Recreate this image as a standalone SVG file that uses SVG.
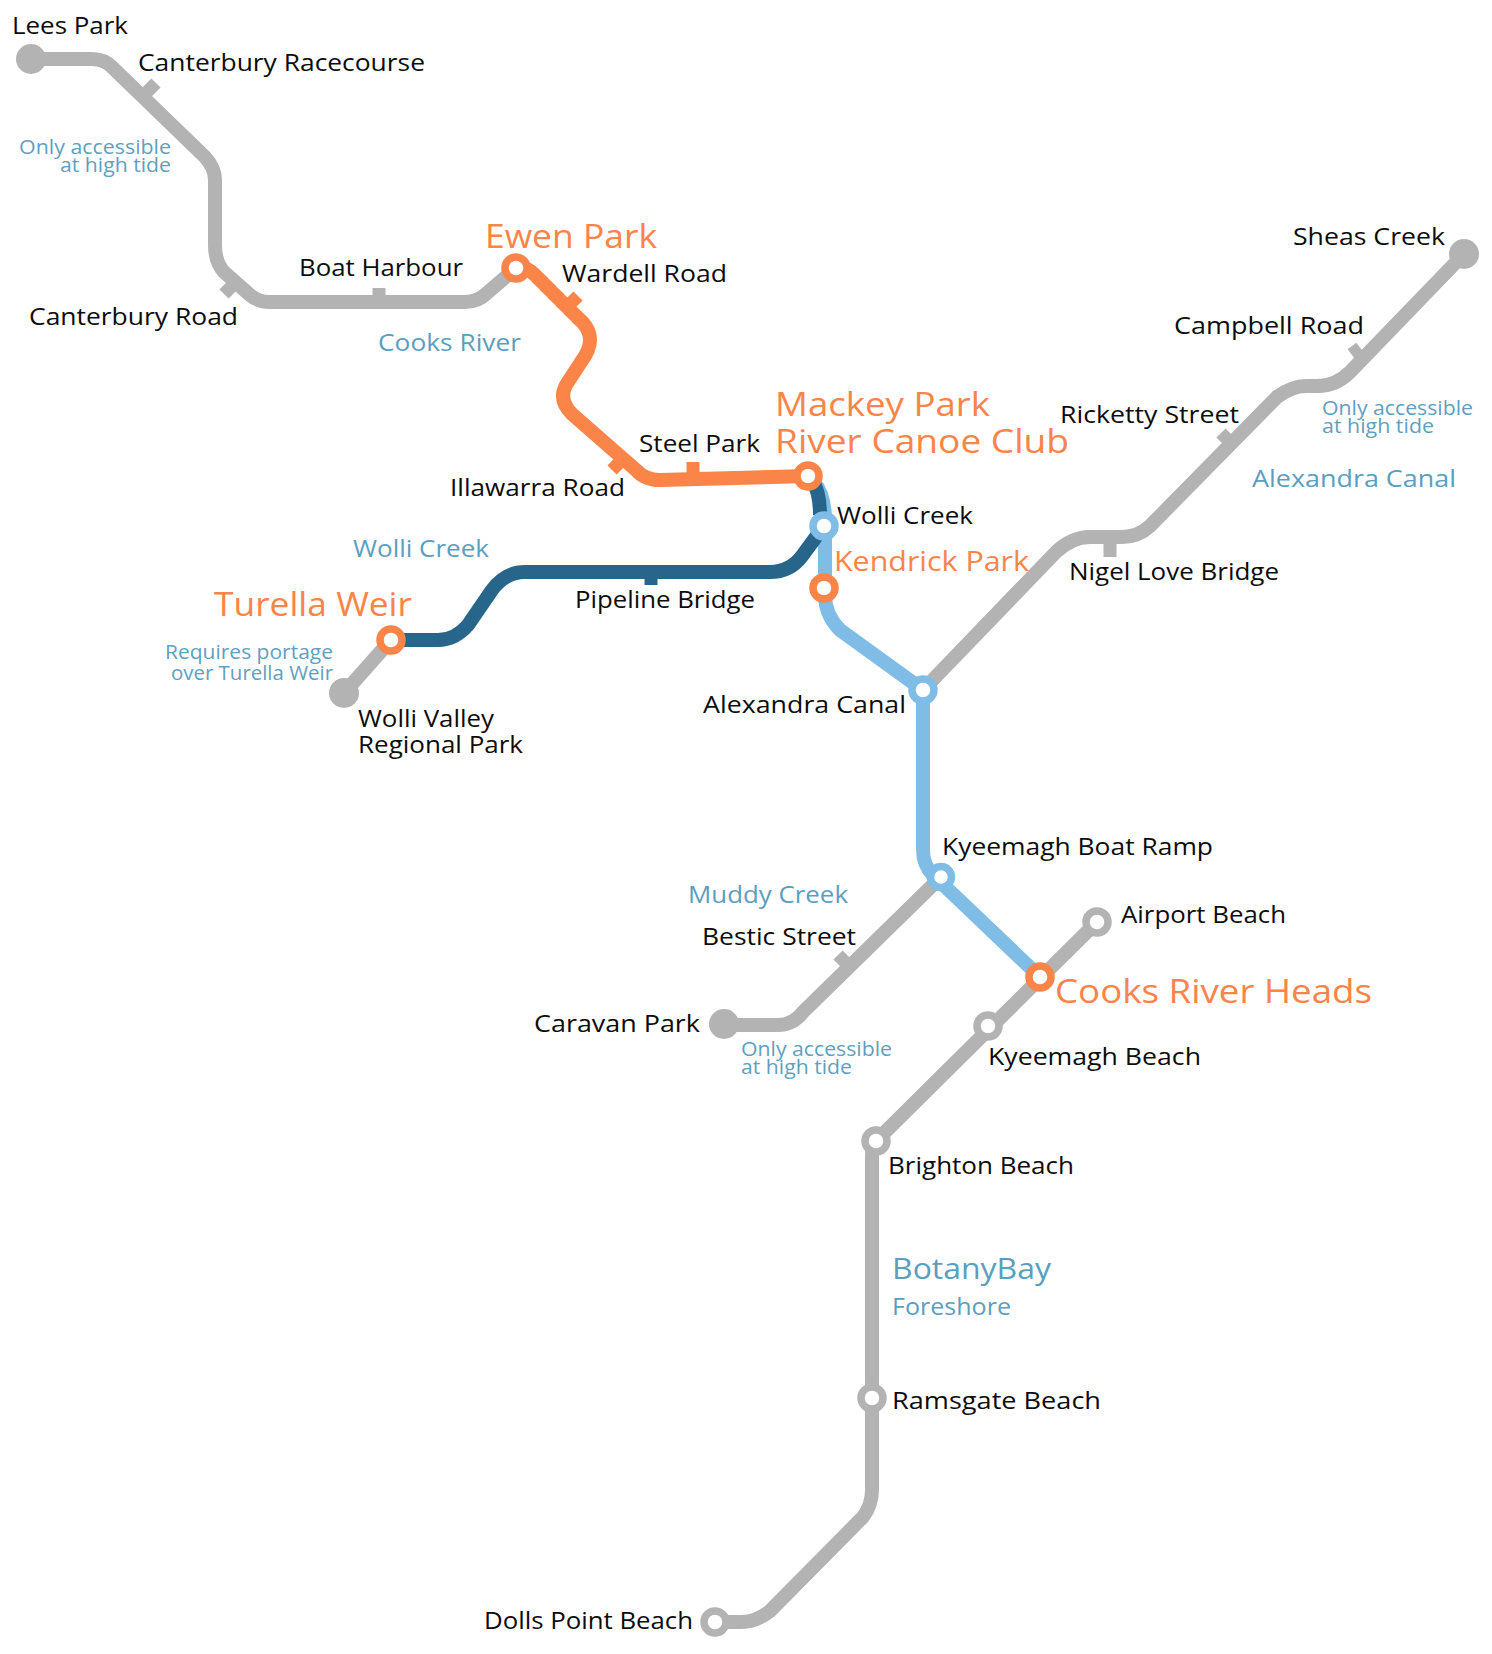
<svg xmlns="http://www.w3.org/2000/svg" width="1492" height="1654" viewBox="0 0 1492 1654">
<style>
text{font-family:"Open Sans","Liberation Sans",sans-serif;font-weight:400}
.l{font-size:24px;fill:#0c0c0c}
.big{font-size:33px;fill:#fb8449}
.mid{font-size:28px;fill:#fb8449}
.riv{font-size:24.5px;fill:#5b9ebf}
.botany{font-size:30px;fill:#5b9ebf}
.note{font-size:20px;fill:#5f9fbf}
.line{fill:none;stroke-width:14;stroke-linecap:butt;stroke-linejoin:round}
.g{stroke:#b3b3b3}.o{stroke:#fb8449}.b{stroke:#80bde6}.d{stroke:#27658a}
.tick{fill:none;stroke-width:13;stroke-linecap:butt}
.st{fill:#fff;stroke-width:7.5}
.end{fill:#b3b3b3}
</style>
<rect width="1492" height="1654" fill="#fff"/>
<g id="connectors">
<path class="line g" d="M31 59H92Q105 59 113 68L205 157Q215 168 215 180V245Q215 262 224 272L250 295Q258 302 270 302H465Q478 302 487 293L516 268"/>
<path class="line g" d="M344 693L391 640"/>
<path class="line g" d="M923 690L1056 552Q1072 537 1090 537H1122Q1138 537 1150 526L1277 397Q1292 386 1306 386H1318Q1336 386 1350 372L1464 254"/>
<path class="line g" d="M941 877L803 1012Q793 1025 778 1025H724"/>
<path class="line g" d="M1097 922L876 1141Q872 1146 872 1155V1490Q872 1505 863 1517L770 1611Q756 1622 742 1622H715"/>
<path class="line b" d="M814 482Q825 495 825 520V595Q825 615 840 630L923 690V850Q923 865 933 875L1040 977"/>
<path class="line d" d="M812 480Q820 492 820 515"/>
<path class="line d" d="M824 526L802 556Q790 572 770 572H525Q505 572 492 590L468 625Q455 640 438 640H391"/>
<path class="line o" d="M516 268Q526 266 535 275L578 318Q590 328 590 340Q590 350 581 362L566 385Q558 400 572 414L636 470Q645 480 660 480L808 476"/>
<g id="ticks">
<path class="tick g" d="M145 94L156 83"/>
<path class="tick g" d="M236 282L224 294"/>
<path class="tick g" d="M379 288V298"/>
<path class="tick o" d="M565 309L578 296"/>
<path class="tick o" d="M624 458L612 470"/>
<path class="tick o" d="M693 462V476"/>
<path class="tick d" d="M651 575V585"/>
<path class="tick g" d="M1110 540V557"/>
<path class="tick g" d="M1233 445L1221 433"/>
<path class="tick g" style="stroke-width:11" d="M1361 358L1352 346"/>
<path class="tick g" d="M851 968L838 955"/>
</g>
</g>
<g id="lees-park"><circle class="end" cx="31" cy="59" r="15"/><text class="l" x="12" y="34" textLength="116" lengthAdjust="spacingAndGlyphs">Lees Park</text></g>
<g id="canterbury-racecourse"><text class="l" x="138" y="71" textLength="287" lengthAdjust="spacingAndGlyphs">Canterbury Racecourse</text></g>
<g id="canterbury-road"><text class="l" x="29" y="324.500" textLength="209" lengthAdjust="spacingAndGlyphs">Canterbury Road</text></g>
<g id="boat-harbour"><text class="l" x="299" y="276" textLength="164" lengthAdjust="spacingAndGlyphs">Boat Harbour</text></g>
<g id="ewen-park"><circle class="st o" cx="516" cy="268" r="11"/><text class="big" x="485" y="248" textLength="172" lengthAdjust="spacingAndGlyphs">Ewen Park</text></g>
<g id="wardell-road"><text class="l" x="562" y="282" textLength="165" lengthAdjust="spacingAndGlyphs">Wardell Road</text></g>
<g id="steel-park"><text class="l" x="639" y="452" textLength="121" lengthAdjust="spacingAndGlyphs">Steel Park</text></g>
<g id="illawarra-road"><text class="l" x="450" y="495.500" textLength="175" lengthAdjust="spacingAndGlyphs">Illawarra Road</text></g>
<g id="mackey-park"><circle class="st o" cx="808" cy="476" r="11"/><text class="big" x="775" y="416" textLength="215" lengthAdjust="spacingAndGlyphs">Mackey Park</text><text class="big" x="775" y="453" textLength="294" lengthAdjust="spacingAndGlyphs">River Canoe Club</text></g>
<g id="wolli-creek"><circle class="st b" cx="824" cy="526" r="11"/><text class="l" x="837" y="524" textLength="136" lengthAdjust="spacingAndGlyphs">Wolli Creek</text></g>
<g id="kendrick-park"><circle class="st o" cx="824" cy="588" r="11"/><text class="mid" x="834" y="571" textLength="195" lengthAdjust="spacingAndGlyphs">Kendrick Park</text></g>
<g id="pipeline-bridge"><text class="l" x="575" y="608" textLength="180" lengthAdjust="spacingAndGlyphs">Pipeline Bridge</text></g>
<g id="turella-weir"><circle class="st o" cx="391" cy="640" r="11"/><text class="big" x="214" y="616" textLength="198" lengthAdjust="spacingAndGlyphs">Turella Weir</text></g>
<g id="wolli-valley"><circle class="end" cx="344" cy="693" r="15"/><text class="l" x="358" y="726.500" textLength="136" lengthAdjust="spacingAndGlyphs">Wolli Valley</text><text class="l" x="358" y="753" textLength="165" lengthAdjust="spacingAndGlyphs">Regional Park</text></g>
<g id="alexandra-canal"><circle class="st b" cx="923" cy="690" r="11"/><text class="l" x="703" y="713" textLength="203" lengthAdjust="spacingAndGlyphs">Alexandra Canal</text></g>
<g id="nigel-love-bridge"><text class="l" x="1069" y="579.500" textLength="210" lengthAdjust="spacingAndGlyphs">Nigel Love Bridge</text></g>
<g id="ricketty-street"><text class="l" x="1060" y="423" textLength="179" lengthAdjust="spacingAndGlyphs">Ricketty Street</text></g>
<g id="campbell-road"><text class="l" x="1174" y="334" textLength="190" lengthAdjust="spacingAndGlyphs">Campbell Road</text></g>
<g id="sheas-creek"><circle class="end" cx="1464" cy="254" r="15"/><text class="l" x="1293" y="245" textLength="152" lengthAdjust="spacingAndGlyphs">Sheas Creek</text></g>
<g id="kyeemagh-boat-ramp"><circle class="st b" cx="941" cy="877" r="10.500"/><text class="l" x="942" y="854.500" textLength="271" lengthAdjust="spacingAndGlyphs">Kyeemagh Boat Ramp</text></g>
<g id="bestic-street"><text class="l" x="702" y="945" textLength="154" lengthAdjust="spacingAndGlyphs">Bestic Street</text></g>
<g id="caravan-park"><circle class="end" cx="724" cy="1024" r="15"/><text class="l" x="534" y="1032" textLength="166" lengthAdjust="spacingAndGlyphs">Caravan Park</text></g>
<g id="airport-beach"><circle class="st g" cx="1097" cy="922" r="11"/><text class="l" x="1121" y="923" textLength="165" lengthAdjust="spacingAndGlyphs">Airport Beach</text></g>
<g id="cooks-river-heads"><circle class="st o" cx="1040" cy="977" r="11"/><text class="big" x="1055" y="1003" textLength="317" lengthAdjust="spacingAndGlyphs">Cooks River Heads</text></g>
<g id="kyeemagh-beach"><circle class="st g" cx="988" cy="1026" r="11"/><text class="l" x="988" y="1065" textLength="213" lengthAdjust="spacingAndGlyphs">Kyeemagh Beach</text></g>
<g id="brighton-beach"><circle class="st g" cx="876" cy="1141" r="11"/><text class="l" x="888" y="1173.500" textLength="186" lengthAdjust="spacingAndGlyphs">Brighton Beach</text></g>
<g id="ramsgate-beach"><circle class="st g" cx="872" cy="1398" r="11"/><text class="l" x="892" y="1408.500" textLength="209" lengthAdjust="spacingAndGlyphs">Ramsgate Beach</text></g>
<g id="dolls-point-beach"><circle class="st g" cx="715" cy="1622" r="11"/><text class="l" x="484" y="1628.500" textLength="209" lengthAdjust="spacingAndGlyphs">Dolls Point Beach</text></g>
<g id="annotations">
<text class="note" x="19" y="154" textLength="152" lengthAdjust="spacingAndGlyphs">Only accessible</text>
<text class="note" x="60" y="172" textLength="111" lengthAdjust="spacingAndGlyphs">at high tide</text>
<text class="note" x="1322" y="415" textLength="151" lengthAdjust="spacingAndGlyphs">Only accessible</text>
<text class="note" x="1322" y="433" textLength="112" lengthAdjust="spacingAndGlyphs">at high tide</text>
<text class="note" x="741" y="1056" textLength="151" lengthAdjust="spacingAndGlyphs">Only accessible</text>
<text class="note" x="741" y="1074" textLength="111" lengthAdjust="spacingAndGlyphs">at high tide</text>
<text class="note" x="165" y="659" textLength="168" lengthAdjust="spacingAndGlyphs">Requires portage</text>
<text class="note" x="171" y="680" textLength="162" lengthAdjust="spacingAndGlyphs">over Turella Weir</text>
<text class="riv" x="378" y="351" textLength="143" lengthAdjust="spacingAndGlyphs">Cooks River</text>
<text class="riv" x="353" y="557" textLength="136" lengthAdjust="spacingAndGlyphs">Wolli Creek</text>
<text class="riv" x="1252" y="487" textLength="204" lengthAdjust="spacingAndGlyphs">Alexandra Canal</text>
<text class="riv" x="688" y="903" textLength="160" lengthAdjust="spacingAndGlyphs">Muddy Creek</text>
<text class="botany" x="892" y="1279" textLength="159" lengthAdjust="spacingAndGlyphs">BotanyBay</text>
<text class="riv" x="892" y="1315" textLength="119" lengthAdjust="spacingAndGlyphs">Foreshore</text>
</g>
</svg>
